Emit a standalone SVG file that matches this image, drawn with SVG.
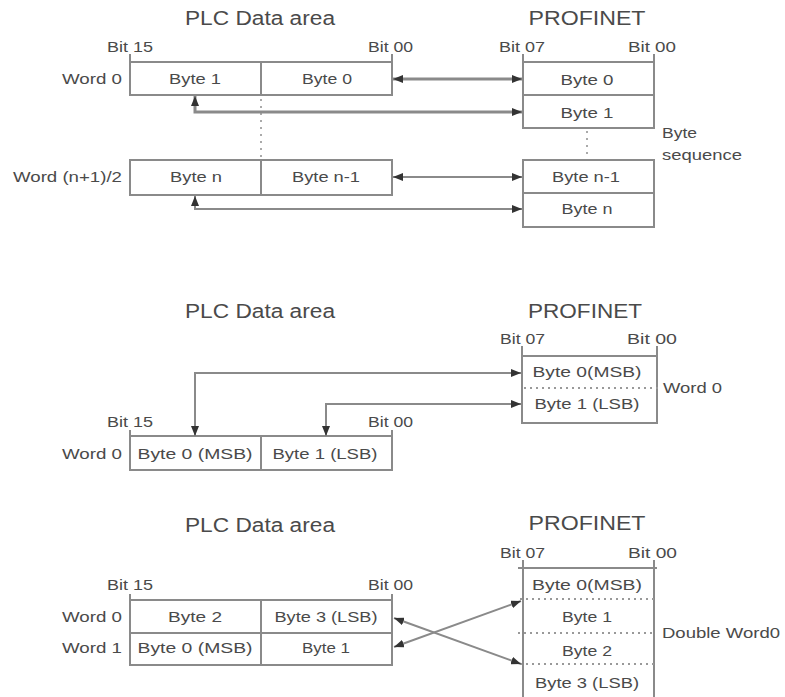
<svg xmlns="http://www.w3.org/2000/svg" width="785" height="697" viewBox="0 0 785 697">
<style>
text{font-family:"Liberation Sans",Arial,sans-serif;fill:#4a4a4a;}
.title{font-size:20px;}
.lbl{font-size:15px;}
.m{text-anchor:middle;}
.e{text-anchor:end;}
.box{fill:#fff;stroke:#8a8a8a;stroke-width:2;}
.ln{fill:none;stroke:#8a8a8a;stroke-width:2;}
.dot{fill:none;stroke:#999;stroke-width:2;stroke-dasharray:2 4;}
.dotv{fill:none;stroke:#aaa;stroke-width:2;stroke-dasharray:2 5;}
.ar{fill:none;stroke:#8a8a8a;stroke-width:2;marker-end:url(#ah);marker-start:url(#ah);}
.ar3{fill:none;stroke:#8a8a8a;stroke-width:3;marker-end:url(#ah);marker-start:url(#ah);}
</style>
<defs>
<marker id="ah" viewBox="0 0 10 8" refX="10" refY="4" markerWidth="10" markerHeight="8" markerUnits="userSpaceOnUse" orient="auto-start-reverse"><path d="M0,0 L10,4 L0,8 Z" fill="#333"/></marker>
</defs>
<rect width="785" height="697" fill="#fff"/>

<!-- ===== Section 1 ===== -->
<g id="s1-titles">
<text class="title m" x="260" y="25" textLength="150" lengthAdjust="spacingAndGlyphs">PLC Data area</text>
<text class="title m" x="587" y="25" textLength="117" lengthAdjust="spacingAndGlyphs">PROFINET</text>
<text class="lbl" x="107" y="52" textLength="46" lengthAdjust="spacingAndGlyphs">Bit 15</text>
<text class="lbl" x="368" y="52" textLength="45" lengthAdjust="spacingAndGlyphs">Bit 00</text>
<text class="lbl" x="499" y="52" textLength="46" lengthAdjust="spacingAndGlyphs">Bit 07</text>
<text class="lbl" x="628" y="52" textLength="48" lengthAdjust="spacingAndGlyphs">Bit 00</text>
<text class="lbl" x="662" y="138" textLength="35" lengthAdjust="spacingAndGlyphs">Byte</text>
<text class="lbl" x="662" y="160" textLength="80" lengthAdjust="spacingAndGlyphs">sequence</text>
</g>
<g id="s1-plc-word0">
<rect class="box" x="130" y="62" width="262" height="33"/>
<line class="ln" x1="261" y1="62" x2="261" y2="95"/>
<line class="ln" x1="130" y1="54" x2="130" y2="62"/>
<line class="ln" x1="392" y1="54" x2="392" y2="62"/>
<text class="lbl e" x="122" y="84" textLength="60" lengthAdjust="spacingAndGlyphs">Word 0</text>
<text class="lbl m" x="195" y="84" textLength="52" lengthAdjust="spacingAndGlyphs">Byte 1</text>
<text class="lbl m" x="327" y="84" textLength="50" lengthAdjust="spacingAndGlyphs">Byte 0</text>
</g>
<g id="s1-plc-wordn">
<rect class="box" x="130" y="160" width="262" height="35"/>
<line class="ln" x1="261" y1="160" x2="261" y2="195"/>
<text class="lbl e" x="122" y="182" textLength="109" lengthAdjust="spacingAndGlyphs">Word (n+1)/2</text>
<text class="lbl m" x="196" y="182" textLength="52" lengthAdjust="spacingAndGlyphs">Byte n</text>
<text class="lbl m" x="326" y="182" textLength="68" lengthAdjust="spacingAndGlyphs">Byte n-1</text>
</g>
<g id="s1-pn-top">
<rect class="box" x="523" y="62" width="131" height="66"/>
<line class="ln" x1="523" y1="95" x2="654" y2="95"/>
<line class="ln" x1="523" y1="54" x2="523" y2="62"/>
<line class="ln" x1="654" y1="54" x2="654" y2="62"/>
<text class="lbl m" x="587" y="85" textLength="53" lengthAdjust="spacingAndGlyphs">Byte 0</text>
<text class="lbl m" x="587" y="118" textLength="53" lengthAdjust="spacingAndGlyphs">Byte 1</text>
</g>
<g id="s1-pn-bottom">
<rect class="box" x="523" y="160" width="131" height="67"/>
<line class="ln" x1="523" y1="193" x2="654" y2="193" stroke-width="3"/>
<text class="lbl m" x="586" y="182" textLength="68" lengthAdjust="spacingAndGlyphs">Byte n-1</text>
<text class="lbl m" x="587" y="214" textLength="51" lengthAdjust="spacingAndGlyphs">Byte n</text>
</g>

<!-- ===== Section 2 ===== -->
<g id="s2-titles">
<text class="title m" x="260" y="318" textLength="150" lengthAdjust="spacingAndGlyphs">PLC Data area</text>
<text class="title m" x="585" y="318" textLength="114" lengthAdjust="spacingAndGlyphs">PROFINET</text>
<text class="lbl" x="500" y="344" textLength="45" lengthAdjust="spacingAndGlyphs">Bit 07</text>
<text class="lbl" x="627" y="344" textLength="50" lengthAdjust="spacingAndGlyphs">Bit 00</text>
<text class="lbl" x="107" y="427" textLength="46" lengthAdjust="spacingAndGlyphs">Bit 15</text>
<text class="lbl" x="368" y="427" textLength="45" lengthAdjust="spacingAndGlyphs">Bit 00</text>
</g>
<g id="s2-pn">
<rect class="box" x="522" y="356" width="135" height="67"/>
<line class="ln" x1="522" y1="346" x2="522" y2="356"/>
<line class="ln" x1="657" y1="346" x2="657" y2="356"/>
<line class="dot" x1="524" y1="388" x2="660" y2="388"/>
<text class="lbl m" x="587" y="377" textLength="109" lengthAdjust="spacingAndGlyphs">Byte 0(MSB)</text>
<text class="lbl m" x="587" y="409" textLength="105" lengthAdjust="spacingAndGlyphs">Byte 1 (LSB)</text>
<text class="lbl" x="663" y="393" textLength="59" lengthAdjust="spacingAndGlyphs">Word 0</text>
</g>
<g id="s2-plc">
<rect class="box" x="130" y="436" width="262" height="34"/>
<line class="ln" x1="261" y1="436" x2="261" y2="470"/>
<line class="ln" x1="130" y1="430" x2="130" y2="436"/>
<line class="ln" x1="392" y1="430" x2="392" y2="436"/>
<text class="lbl e" x="122" y="459" textLength="60" lengthAdjust="spacingAndGlyphs">Word 0</text>
<text class="lbl m" x="195" y="459" textLength="115" lengthAdjust="spacingAndGlyphs">Byte 0 (MSB)</text>
<text class="lbl m" x="325" y="459" textLength="105" lengthAdjust="spacingAndGlyphs">Byte 1 (LSB)</text>
</g>

<!-- ===== Section 3 ===== -->
<g id="s3-titles">
<text class="title m" x="260" y="532" textLength="150" lengthAdjust="spacingAndGlyphs">PLC Data area</text>
<text class="title m" x="587" y="530" textLength="117" lengthAdjust="spacingAndGlyphs">PROFINET</text>
<text class="lbl" x="500" y="558" textLength="45" lengthAdjust="spacingAndGlyphs">Bit 07</text>
<text class="lbl" x="628" y="558" textLength="49" lengthAdjust="spacingAndGlyphs">Bit 00</text>
<text class="lbl" x="107" y="590" textLength="46" lengthAdjust="spacingAndGlyphs">Bit 15</text>
<text class="lbl" x="368" y="590" textLength="45" lengthAdjust="spacingAndGlyphs">Bit 00</text>
</g>
<g id="s3-plc">
<rect class="box" x="130" y="600" width="262" height="65"/>
<line class="ln" x1="130" y1="633" x2="392" y2="633"/>
<line class="ln" x1="261" y1="600" x2="261" y2="665"/>
<line class="ln" x1="130" y1="594" x2="130" y2="600"/>
<line class="ln" x1="392" y1="594" x2="392" y2="600"/>
<text class="lbl e" x="122" y="622" textLength="60" lengthAdjust="spacingAndGlyphs">Word 0</text>
<text class="lbl e" x="122" y="653" textLength="60" lengthAdjust="spacingAndGlyphs">Word 1</text>
<text class="lbl m" x="195" y="622" textLength="54" lengthAdjust="spacingAndGlyphs">Byte 2</text>
<text class="lbl m" x="326" y="622" textLength="103" lengthAdjust="spacingAndGlyphs">Byte 3 (LSB)</text>
<text class="lbl m" x="195" y="653" textLength="115" lengthAdjust="spacingAndGlyphs">Byte 0 (MSB)</text>
<text class="lbl m" x="326" y="653" textLength="48" lengthAdjust="spacingAndGlyphs">Byte 1</text>
</g>
<g id="s3-pn">
<line class="ln" x1="518" y1="568" x2="657" y2="568"/>
<line class="ln" x1="523" y1="560" x2="523" y2="697"/>
<line class="ln" x1="654" y1="560" x2="654" y2="697"/>
<line class="dot" x1="520" y1="599" x2="656" y2="599"/>
<line class="dot" x1="518" y1="633" x2="656" y2="633"/>
<line class="dot" x1="520" y1="664" x2="656" y2="664"/>
<text class="lbl m" x="587" y="590" textLength="110" lengthAdjust="spacingAndGlyphs">Byte 0(MSB)</text>
<text class="lbl m" x="587" y="622" textLength="50" lengthAdjust="spacingAndGlyphs">Byte 1</text>
<text class="lbl m" x="587" y="656" textLength="50" lengthAdjust="spacingAndGlyphs">Byte 2</text>
<text class="lbl m" x="587" y="688" textLength="104" lengthAdjust="spacingAndGlyphs">Byte 3 (LSB)</text>
<text class="lbl" x="662" y="638" textLength="118" lengthAdjust="spacingAndGlyphs">Double Word0</text>
</g>

<!-- ===== Connectors ===== -->
<g id="connectors">
<line class="dotv" x1="261" y1="99" x2="261" y2="158"/>
<line class="dotv" x1="587" y1="131" x2="587" y2="158"/>
<path class="ar3" d="M393,79 L522,79"/>
<path class="ar3" d="M195,96 L195,112 L522,112"/>
<path class="ar" d="M393,177 L522,177"/>
<path class="ar" d="M195,196 L195,209 L522,209"/>
<path class="ar" d="M195,436 L195,373 L521,373"/>
<path class="ar" d="M326,436 L326,404 L521,404"/>
<path class="ar" d="M394,618 L521,664"/>
<path class="ar" d="M394,647 L521,601"/>
</g>
</svg>
